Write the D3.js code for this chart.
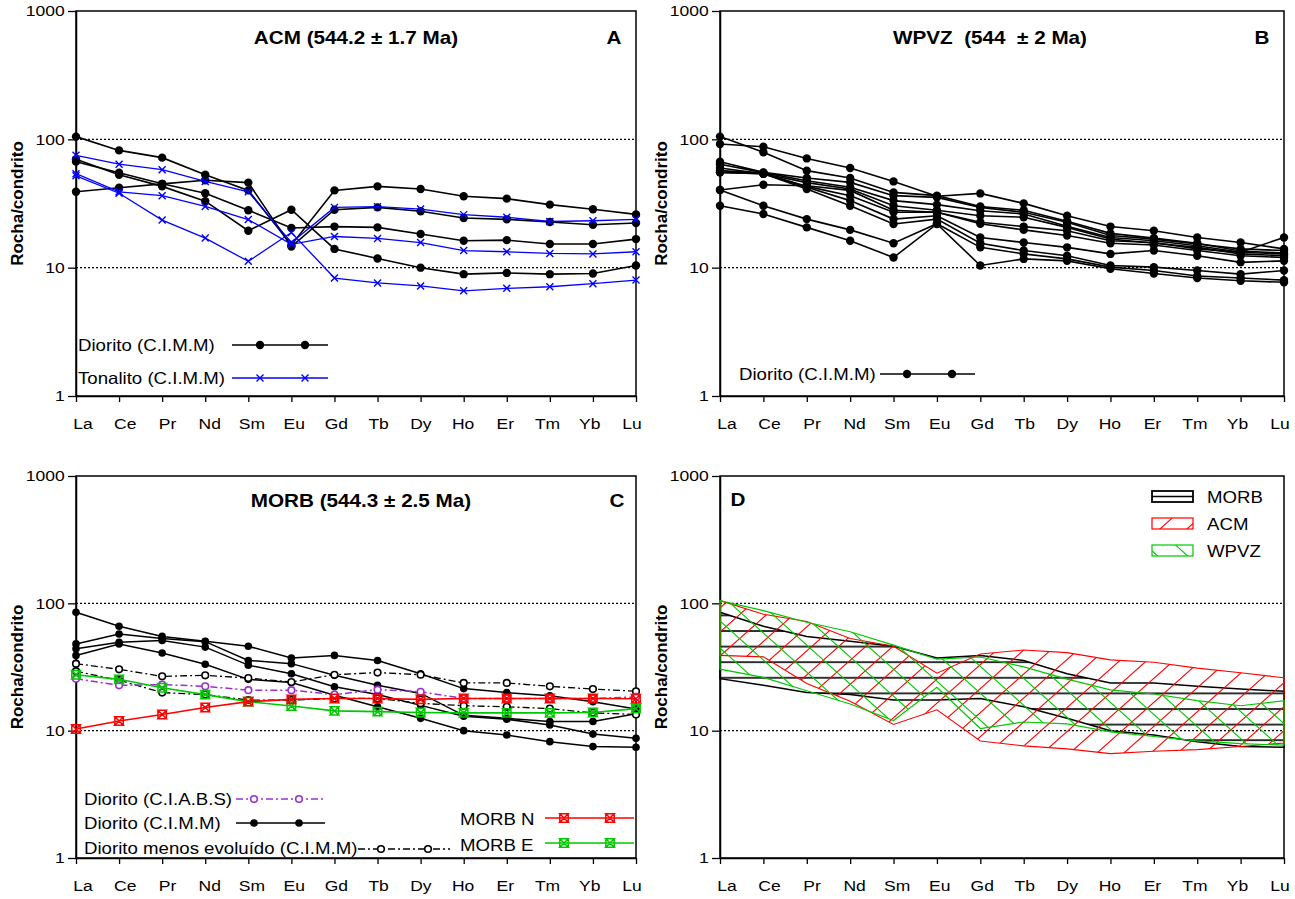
<!DOCTYPE html>
<html><head><meta charset="utf-8">
<script src="https://cdn.jsdelivr.net/npm/d3@7"></script>
<style>
body{margin:0;background:#fff}
text{font-family:"Liberation Sans",Arial,sans-serif;fill:#000}
</style>
</head><body>
<svg id="chart" width="1295" height="899"></svg>
<script>
// ---------- data ----------
const ree = ["La","Ce","Pr","Nd","Sm","Eu","Gd","Tb","Dy","Ho","Er","Tm","Yb","Lu"];
const yTicks = [1,10,100,1000];

// Panel A - ACM
const acmDiorito1 = [105, 82, 72, 53, 40, 15, 40, 43, 41, 36, 34.5, 31, 28.5, 26];
const acmDiorito2 = [39, 42, 45, 48, 46, 14.6, 28.3, 29.5, 27.5, 24.4, 23.8, 22.7, 21.6, 22.3];
const acmDiorito3 = [67, 55, 45, 38, 28, 20.4, 20.9, 20.6, 18.3, 16.2, 16.4, 15.3, 15.3, 16.7];
const acmDiorito4 = [70, 53, 43, 33, 19.4, 28.3, 14, 11.8, 10, 8.9, 9.1, 8.9, 9.0, 10.4];
const acmTonalito1 = [75, 64, 58, 47, 39, 15.7, 29.5, 29.9, 28.6, 25.9, 24.7, 22.9, 23.2, 23.8];
const acmTonalito2 = [54, 39, 36.4, 30, 23.7, 15.2, 17.5, 16.9, 15.7, 13.6, 13.3, 12.9, 12.8, 13.3];
const acmTonalito3 = [52, 38, 23.5, 17, 11.2, 18.8, 8.3, 7.6, 7.2, 6.6, 6.9, 7.1, 7.5, 8.0];

// Panel B - WPVZ
const wpvz1 = [105, 79.4, 57, 50, 38.6, 36.4, 30, 28, 23, 18.5, 17, 15.5, 13.5, 13];
const wpvz2 = [92, 87.6, 71, 59.8, 47, 36, 37.9, 31.7, 25.4, 20.9, 19.4, 17.2, 15.7, 14];
const wpvz3 = [67, 55.3, 50, 46.2, 36.4, 35.3, 29.5, 27, 22.6, 17.8, 16.7, 15.3, 14, 13.6];
const wpvz4 = [64, 55, 47.6, 42.3, 33.3, 31, 27.8, 26.2, 21, 17.2, 16.2, 14.8, 13.2, 12.8];
const wpvz5 = [59.8, 54, 46, 41, 30.4, 28, 25.4, 24.7, 20.6, 16.7, 15.5, 14.4, 12.8, 12.4];
const wpvz6 = [40.3, 44.3, 43.5, 40, 28, 27, 22.6, 20.9, 19.4, 16.2, 15.7, 14, 13.2, 17.2];
const wpvz7 = [55.3, 54, 43, 36.4, 27, 27, 22, 19.7, 17.8, 15.5, 15, 13.6, 12.4, 12];
const wpvz8 = [57, 54.5, 42.3, 33.3, 23.9, 25.4, 17.2, 15.7, 14.4, 12.8, 13.6, 12.4, 11, 11.3];
const wpvz9 = [40.3, 30.4, 23.9, 19.7, 15.5, 22, 14.4, 12.8, 11.7, 10.1, 9.5, 8.6, 8.3, 8.0];
const wpvz10 = [30.4, 26.2, 20.6, 16.2, 12, 21.9, 10.4, 11.7, 11.3, 9.8, 9.0, 8.3, 7.9, 7.7];
const wpvz11 = [55.3, 54, 41, 30.4, 21.9, 23.9, 15.5, 13.6, 12.4, 10.4, 10.1, 9.5, 8.9, 9.5];

// Panel C - MORB
const morbCIMM1 = [85, 66, 55, 50.4, 46, 37.2, 39, 35.6, 28, 21.4, 19.9, 18.8, 16.9, 14.8];
const morbCIMM2 = [48, 57.5, 53, 50, 35.6, 33.6, 27.2, 22.7, 19.6, 13.2, 12.5, 11.8, 11.8, 13.6];
const morbCIMM3 = [44, 49.5, 51, 45.3, 32.7, 28, 22.1, 19.2, 15.8, 13.0, 12.3, 11.1, 9.4, 8.7];
const morbCIMM4 = [39, 48, 40.7, 33.2, 25.3, 23.9, 19, 15.4, 12.5, 10, 9.25, 8.2, 7.5, 7.4];
const morbMenos1 = [33.6, 30.3, 26.7, 27.2, 25.9, 24.1, 27.5, 28.6, 27.5, 23.7, 23.7, 22.3, 21.2, 20.4];
const morbMenos2 = [29.3, 24.9, 19.9, 19.2, 17.4, 17.4, 17.9, 17.9, 16.4, 15.7, 15.4, 14.9, 13.8, 13.4];
const morbCIABS = [25.6, 22.7, 23.0, 22.3, 20.8, 20.8, 19.2, 21.0, 20.2, 17.9, 17.9, 17.9, 17.9, 18.4];
const morbN = [10.3, 11.9, 13.4, 15.2, 16.9, 17.6, 17.9, 17.9, 17.6, 17.9, 17.9, 17.9, 17.9, 17.8];
const morbE = [27.5, 25.3, 21.7, 19.2, 16.9, 15.6, 14.3, 14.1, 13.9, 13.8, 13.8, 13.8, 13.9, 14.9];

// ---------- helpers ----------
const svg = d3.select("#chart");
const SX = 1.13;
const defs = svg.append("defs");

function txt(g, x, y, s, o = {}) {
  return g.append("text")
    .attr("transform", `translate(${x},${y}) scale(${o.sx || SX},1)`)
    .attr("text-anchor", o.anchor || "start")
    .attr("dominant-baseline", "central")
    .style("font-size", (o.size || 16.5) + "px")
    .style("font-weight", o.weight || "normal")
    .style("white-space", "pre")
    .text(s);
}

const panels = {
  A: {x0: 76, x1: 636, top: 11, bot: 396},
  B: {x0: 720, x1: 1284, top: 11, bot: 396},
  C: {x0: 76, x1: 636, top: 476, bot: 858},
  D: {x0: 720, x1: 1284, top: 476, bot: 858}
};

function setup(p) {
  const g = svg.append("g");
  const x = d3.scalePoint().domain(ree).range([p.x0, p.x1]);
  const xl = d3.scalePoint().domain(ree).range([p.x0 + 7, p.x1 - 4]);
  const y = d3.scaleLog().domain([1, 1000]).range([p.bot, p.top]);
  // dotted grid
  g.selectAll("line.grid").data([10, 100]).join("line")
    .attr("x1", p.x0).attr("x2", p.x1)
    .attr("y1", d => y(d)).attr("y2", d => y(d))
    .attr("stroke", "#000").attr("stroke-width", 1.2).attr("stroke-dasharray", "2,2");
  // frame
  g.append("rect").attr("x", p.x0).attr("y", p.top)
    .attr("width", p.x1 - p.x0).attr("height", p.bot - p.top)
    .attr("fill", "none").attr("stroke", "#000").attr("stroke-width", 1.5);
  // y axis
  const ya = g.append("g").attr("transform", `translate(${p.x0},0)`)
    .call(d3.axisLeft(y).tickValues(yTicks).tickFormat(d3.format("d")).tickSize(8).tickPadding(2).tickSizeOuter(0));
  ya.attr("font-family", null).attr("font-size", null);
  ya.select(".domain").attr("stroke-width", 1.5);
  ya.selectAll(".tick line").attr("stroke-width", 1.3);
  ya.selectAll(".tick text").style("font-size", "15.5px")
    .attr("transform", `scale(${SX},1)`);
  // x axis
  const xa = g.append("g").attr("transform", `translate(0,${p.bot})`)
    .call(d3.axisBottom(x).tickSize(6).tickFormat("").tickSizeOuter(0));
  xa.select(".domain").attr("stroke-width", 1.5);
  xa.selectAll(".tick line").attr("stroke-width", 1.3);
  ree.forEach(c => txt(g, xl(c), p.bot + 28, c, {anchor: "middle", size: 15.5}));
  // y title
  g.append("text")
    .attr("transform", `translate(${p.x0 - 59},${(p.top + p.bot) / 2}) rotate(-90)`)
    .attr("text-anchor", "middle").attr("dominant-baseline", "central")
    .style("font-size", "17px").style("font-weight", "bold")
    .text("Rocha/condrito");
  return {g, x, y};
}

function dot(g, x, y, c, r = 4) {
  g.append("circle").attr("cx", x).attr("cy", y).attr("r", r).attr("fill", c);
}
function xmark(g, x, y, c) {
  const s = 3.5;
  g.append("path").attr("d", `M${x - s},${y - s}L${x + s},${y + s}M${x - s},${y + s}L${x + s},${y - s}`)
    .attr("stroke", c).attr("stroke-width", 1.4).attr("fill", "none");
}
function ring(g, x, y, c) {
  g.append("circle").attr("cx", x).attr("cy", y).attr("r", 3.3)
    .attr("fill", "#fff").attr("stroke", c).attr("stroke-width", 1.6);
}
function hbox(g, x, y, c) {
  const s = 4.2;
  g.append("path")
    .attr("d", `M${x - s},${y - s}H${x + s}L${x - s},${y + s}H${x + s}ZM${x - s},${y - s}V${y + s}M${x + s},${y - s}V${y + s}`)
    .attr("stroke", c).attr("stroke-width", 1.5).attr("fill", "none");
}

function series(sc, data, o) {
  const line = d3.line().x((d, i) => sc.x(ree[i])).y(d => sc.y(d));
  sc.g.append("path").attr("d", line(data)).attr("fill", "none")
    .attr("stroke", o.color).attr("stroke-width", o.width || 1.5)
    .attr("stroke-dasharray", o.dash || null);
  data.forEach((d, i) => o.marker(sc.g, sc.x(ree[i]), sc.y(d), o.color));
}

function legendLine(g, x1, x2, y, o, mx) {
  g.append("line").attr("x1", x1).attr("x2", x2).attr("y1", y).attr("y2", y)
    .attr("stroke", o.color).attr("stroke-width", o.width || 1.5)
    .attr("stroke-dasharray", o.dash || null);
  mx.forEach(m => o.marker(g, m, y, o.color));
}

const BLACK = "#000", BLUE = "#0000ff", PURPLE = "#9b30d0", RED = "#ff0000", GREEN = "#00c800";
const DASHDOT = "7,3,2,3";

// ---------- Panel A ----------
const A = setup(panels.A);
const stDior = {color: BLACK, width: 1.6, marker: (g, x, y, c) => dot(g, x, y, c, 4.2)};
const stTon = {color: BLUE, width: 1.3, marker: xmark};
[acmDiorito1, acmDiorito2, acmDiorito3, acmDiorito4].forEach(d => series(A, d, stDior));
[acmTonalito1, acmTonalito2, acmTonalito3].forEach(d => series(A, d, stTon));
txt(A.g, 356, 37, "ACM (544.2 ± 1.7 Ma)", {anchor: "middle", size: 18.3, weight: "bold"});
txt(A.g, 614, 37, "A", {anchor: "middle", size: 18.3, weight: "bold"});
txt(A.g, 78, 345, "Diorito (C.I.M.M)");
legendLine(A.g, 232, 328, 345, stDior, [260, 305]);
txt(A.g, 78, 378, "Tonalito (C.I.M.M)");
legendLine(A.g, 232, 328, 378, stTon, [260, 305]);

// ---------- Panel B ----------
const B = setup(panels.B);
const wpvzAll = [wpvz1, wpvz2, wpvz3, wpvz4, wpvz5, wpvz6, wpvz7, wpvz8, wpvz9, wpvz10, wpvz11];
wpvzAll.forEach(d => series(B, d, stDior));
txt(B.g, 990, 37, "WPVZ  (544  ± 2 Ma)", {anchor: "middle", size: 18.3, weight: "bold"});
txt(B.g, 1262, 37, "B", {anchor: "middle", size: 18.3, weight: "bold"});
txt(B.g, 739, 374, "Diorito (C.I.M.M)");
legendLine(B.g, 880, 975, 374, stDior, [907, 952]);

// ---------- Panel C ----------
const C = setup(panels.C);
const stCIMM = {color: BLACK, width: 1.5, marker: (g, x, y, c) => dot(g, x, y, c, 3.8)};
const stMenos = {color: BLACK, width: 1.3, dash: DASHDOT, marker: ring};
const stCIABS = {color: PURPLE, width: 1.5, dash: DASHDOT, marker: ring};
const stN = {color: RED, width: 1.6, marker: hbox};
const stE = {color: GREEN, width: 1.6, marker: hbox};
[morbCIMM1, morbCIMM2, morbCIMM3, morbCIMM4].forEach(d => series(C, d, stCIMM));
[morbMenos1, morbMenos2].forEach(d => series(C, d, stMenos));
series(C, morbCIABS, stCIABS);
series(C, morbE, stE);
series(C, morbN, stN);
txt(C.g, 361, 500, "MORB (544.3 ± 2.5 Ma)", {anchor: "middle", size: 18.3, weight: "bold"});
txt(C.g, 617, 500, "C", {anchor: "middle", size: 18.3, weight: "bold"});
txt(C.g, 84, 799, "Diorito (C.I.A.B.S)");
legendLine(C.g, 236, 325, 799, stCIABS, [254, 299]);
txt(C.g, 84, 823, "Diorito (C.I.M.M)");
legendLine(C.g, 236, 325, 823, stCIMM, [254, 299]);
txt(C.g, 84, 848, "Diorito menos evoluído (C.I.M.M)");
legendLine(C.g, 358, 450, 849, stMenos, [381, 428]);
txt(C.g, 460, 819, "MORB N");
legendLine(C.g, 545, 634, 818, stN, [564, 610]);
txt(C.g, 460, 845, "MORB E");
legendLine(C.g, 545, 634, 843, stE, [564, 610]);

// ---------- Panel D ----------
const D = setup(panels.D);
// hatch patterns
defs.append("pattern").attr("id", "hMorb").attr("patternUnits", "userSpaceOnUse")
  .attr("width", 12).attr("height", 15.6).attr("y", 6)
  .append("line").attr("x1", 0).attr("x2", 12).attr("y1", 1).attr("y2", 1)
  .attr("stroke", BLACK).attr("stroke-width", 1.6);
defs.append("pattern").attr("id", "hAcm").attr("patternUnits", "userSpaceOnUse")
  .attr("width", 27).attr("height", 24)
  .append("path").attr("d", "M0,24L27,0M-6.75,6L6.75,-6M20.25,30L33.75,18")
  .attr("stroke", RED).attr("stroke-width", 1.1).attr("fill", "none");
defs.append("pattern").attr("id", "hWpvz").attr("patternUnits", "userSpaceOnUse")
  .attr("width", 30).attr("height", 27)
  .append("path").attr("d", "M0,0L30,27M-7.5,20.25L7.5,33.75M22.5,-6.75L37.5,6.75")
  .attr("stroke", GREEN).attr("stroke-width", 1.1).attr("fill", "none");

function envelope(list) {
  return ree.map((c, i) => ({c, lo: d3.min(list, s => s[i]), hi: d3.max(list, s => s[i])}));
}
function field(sc, list, pat, color, w) {
  const env = envelope(list);
  const area = d3.area().x(d => sc.x(d.c)).y0(d => sc.y(d.lo)).y1(d => sc.y(d.hi));
  sc.g.append("path").attr("d", area(env)).attr("fill", `url(#${pat})`)
    .attr("stroke", color).attr("stroke-width", w);
}
field(D, [morbCIMM1, morbCIMM2, morbCIMM3, morbCIMM4, morbMenos1, morbMenos2, morbCIABS], "hMorb", BLACK, 1.5);
field(D, [acmDiorito1, acmDiorito2, acmDiorito3, acmDiorito4, acmTonalito1, acmTonalito2, acmTonalito3], "hAcm", RED, 1.1);
field(D, wpvzAll, "hWpvz", GREEN, 1.2);
txt(D.g, 738, 499, "D", {anchor: "middle", size: 18.3, weight: "bold"});
// legend
const lg = D.g.append("g");
lg.append("rect").attr("x", 1152).attr("y", 491).attr("width", 41).attr("height", 11)
  .attr("fill", "#fff").attr("stroke", BLACK).attr("stroke-width", 1.8);
lg.append("line").attr("x1", 1152).attr("x2", 1193).attr("y1", 496.5).attr("y2", 496.5)
  .attr("stroke", BLACK).attr("stroke-width", 1.4);
txt(lg, 1207, 497, "MORB");
lg.append("rect").attr("x", 1152).attr("y", 518).attr("width", 41).attr("height", 11)
  .attr("fill", "url(#hAcm)").attr("stroke", RED).attr("stroke-width", 1.2);
txt(lg, 1207, 524, "ACM");
lg.append("rect").attr("x", 1152).attr("y", 545).attr("width", 41).attr("height", 11)
  .attr("fill", "url(#hWpvz)").attr("stroke", GREEN).attr("stroke-width", 1.2);
txt(lg, 1207, 551, "WPVZ");
</script>
</body></html>
